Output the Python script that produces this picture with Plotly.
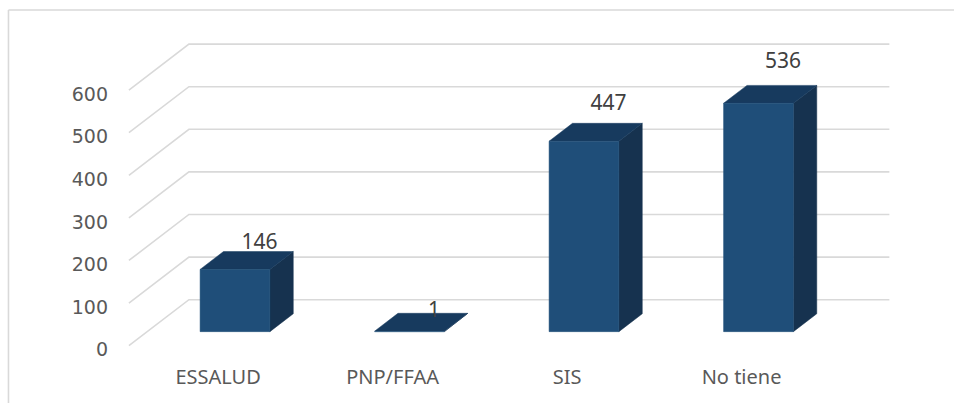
import plotly.graph_objects as go

categories = ["ESSALUD", "PNP/FFAA", "SIS", "No tiene"]
values = [146, 1, 447, 536]
y_ticks = [0, 100, 200, 300, 400, 500, 600]

FRONT = "#1F4E79"
TOP = "#173A5E"
SIDE = "#16324F"
GRID = "#D9D9D9"

# oblique projection, in axis units
half_w = 0.2
depth_x = 0.134
depth_y = 42
base = 33
wall_x = -0.264
wall_left = -0.608
wall_y = 108
right_end = 3.75

fig = go.Figure()

# walls / grid lines
for v in y_ticks:
    fig.add_trace(go.Scatter(
        x=[wall_left, wall_x, right_end], y=[v, v + wall_y, v + wall_y],
        mode="lines", line=dict(color=GRID, width=1.6),
        hoverinfo="skip", showlegend=False))

# bars
for i, v in enumerate(values):
    l, r = i - half_w, i + half_w
    b, t = base, base + v
    dx, dy = depth_x, depth_y
    fig.add_trace(go.Scatter(
        x=[r, r + dx, r + dx, r, r], y=[b, b + dy, t + dy, t, b],
        mode="lines", fill="toself", fillcolor=SIDE,
        line=dict(color=SIDE, width=0.5), hoverinfo="skip", showlegend=False))
    fig.add_trace(go.Scatter(
        x=[l, l + dx, r + dx, r, l], y=[t, t + dy, t + dy, t, t],
        mode="lines", fill="toself", fillcolor=TOP,
        line=dict(color=TOP, width=0.5), hoverinfo="skip", showlegend=False))
    fig.add_trace(go.Scatter(
        x=[l, r, r, l, l], y=[b, b, t, t, b],
        mode="lines", fill="toself", fillcolor=FRONT,
        line=dict(color=FRONT, width=0.5), hoverinfo="skip", showlegend=False))

# data labels
fig.add_trace(go.Scatter(
    x=[i + 0.14 for i in range(4)],
    y=[79 + 1.09 * v for v in values],
    mode="text", text=[str(v) for v in values], textposition="middle center",
    textfont=dict(family="Noto Sans", size=21, color="#404040"),
    hoverinfo="skip", showlegend=False))

fig.update_layout(
    width=954, height=403,
    margin=dict(l=115, r=54, t=10, b=43),
    paper_bgcolor="white", plot_bgcolor="white",
    showlegend=False,
    xaxis=dict(range=[-0.6877, 3.811], showgrid=False, zeroline=False,
               tickmode="array", tickvals=[i - 0.097 for i in range(4)],
               ticktext=categories, ticks="", ticklabelstandoff=3,
               tickfont=dict(family="Noto Sans", size=20, color="#595959")),
    yaxis=dict(range=[-33.6, 788], showgrid=False, zeroline=False,
               tickmode="array", tickvals=y_ticks, ticks="", ticklabelstandoff=6,
               ticklabelshift=4,
               tickfont=dict(family="DejaVu Sans", size=19, color="#595959")),
    shapes=[
        dict(type="line", xref="paper", yref="paper",
             x0=-0.1357, x1=1.09, y0=1, y1=1, line=dict(color=GRID, width=1.6)),
        dict(type="line", xref="paper", yref="paper",
             x0=-0.1357, x1=-0.1357, y0=1, y1=-0.2, line=dict(color=GRID, width=1.6)),
    ],
)

fig.write_html("out.html", post_script="document.body.style.margin='0';",
               config={"displayModeBar": False})
